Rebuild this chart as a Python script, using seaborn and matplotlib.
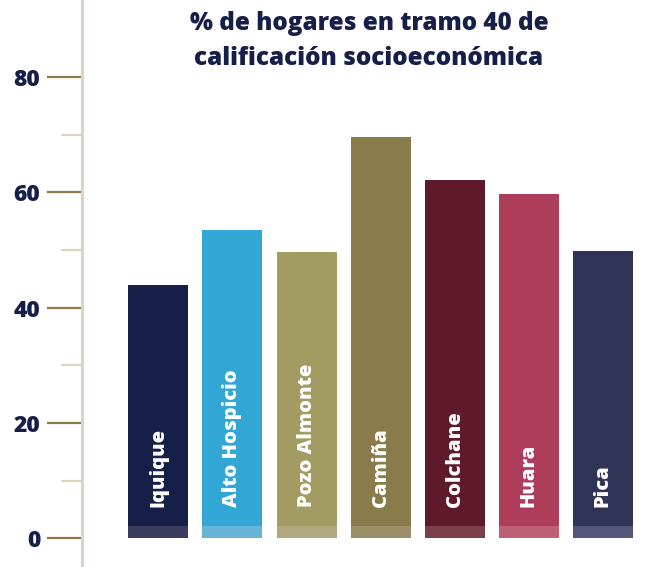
import matplotlib
matplotlib.use("Agg")
import matplotlib.pyplot as plt
import seaborn as sns
import pandas as pd

# Data
comunas = ["Iquique", "Alto Hospicio", "Pozo Almonte", "Camiña", "Colchane", "Huara", "Pica"]
porcentajes = [43.9, 53.4, 49.7, 69.7, 62.2, 59.8, 49.8]
colores = ["#161f48", "#32a6d4", "#a29c62", "#8a7b4a", "#5e1a2b", "#ae3d5c", "#2f3355"]
colores_base = ["#3b3c5e", "#68b4d9", "#b0a97d", "#9c8f68", "#7b3f48", "#bf6174", "#54557a"]
major_ticks = [0, 20, 40, 60, 80]
minor_ticks = [10, 30, 50, 70]
titulo = "% de hogares en tramo 40 de\ncalificación socioeconómica"

navy = "#161f48"

sns.set_style("white")
plt.rcParams["font.family"] = ["Open Sans", "DejaVu Sans"]

df = pd.DataFrame({"comuna": comunas, "pct": porcentajes})

fig = plt.figure(figsize=(6.52, 5.67), dpi=100)
ax = fig.add_axes([82 / 652, 0, (640 - 82) / 652, 1])

sns.barplot(data=df, x="comuna", y="pct", hue="comuna", palette=colores,
            legend=False, width=0.81, saturation=1, linewidth=0, ax=ax)

# lighter strip at the base of each bar
for p, c in zip(ax.patches, colores_base):
    ax.bar(p.get_x() + p.get_width() / 2, 2.1, width=p.get_width(), bottom=0,
           color=c, linewidth=0)

# category names inside the bars
for i, name in enumerate(comunas):
    ax.text(i, 5.4, name, rotation=90, ha="center", va="bottom", color="white",
            fontsize=14.5, fontweight="heavy")

ax.set_xlim(-1.03, 6.5)
ax.set_ylim(-5.0, 93.4)
ax.set_xticks([])
ax.set_xlabel("")
ax.set_ylabel("")

ax.set_yticks(major_ticks)
ax.set_yticks(minor_ticks, minor=True)
ax.set_yticklabels([str(t) for t in major_ticks], fontsize=16.5, fontweight="heavy", color=navy)
ax.tick_params(axis="y", which="major", length=25, width=1.6, color="#8a7a4a", pad=5, left=True)
ax.tick_params(axis="y", which="minor", length=15, width=1.6, color="#ddd3c0", left=True)

for s in ["top", "right", "bottom"]:
    ax.spines[s].set_visible(False)
ax.spines["left"].set_color("#ddd3c0")
ax.spines["left"].set_linewidth(2.2)

fig.text(369 / 652, 1 - 41 / 567, titulo, ha="center", va="center", fontsize=17.5,
         fontweight="heavy", color=navy, linespacing=1.5)

fig.savefig("out.png", dpi=100)
